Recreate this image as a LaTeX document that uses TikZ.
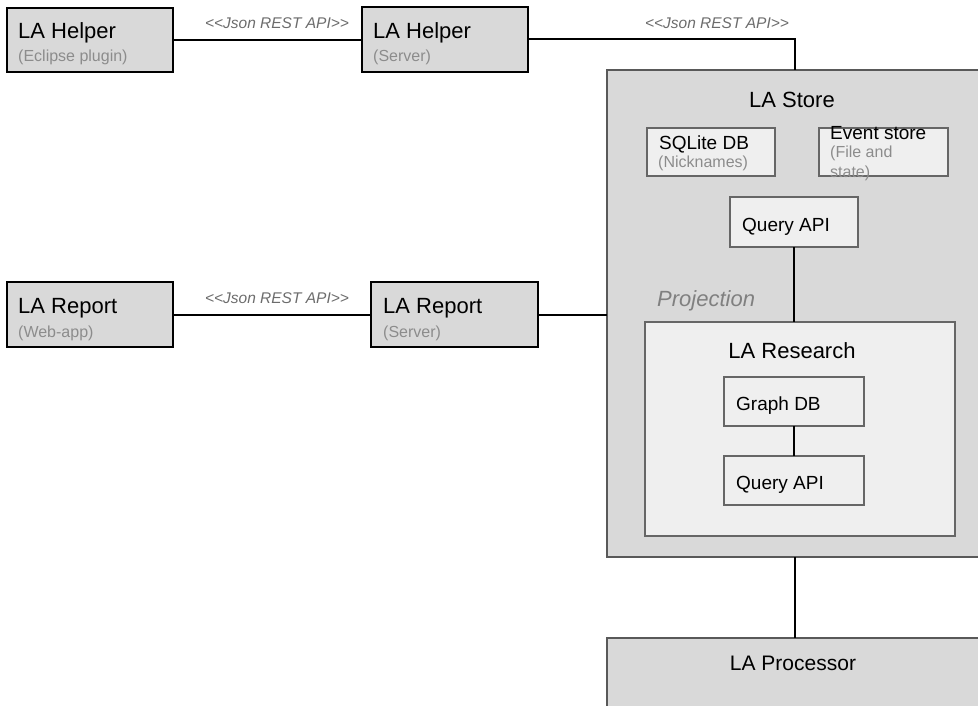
\documentclass[tikz,border=0pt]{standalone}
\usepackage{fontspec}
\setmainfont{Liberation Sans}
\usepackage{xcolor}
\usepackage{tikz}
\definecolor{boxgrey}{HTML}{D9D9D9}
\definecolor{innergrey}{HTML}{EFEFEF}
\definecolor{edgegrey}{HTML}{595959}
\definecolor{inneredge}{HTML}{666666}
\newcommand\subcol{gray!90}
\newcommand\labelcol{gray!85!black}
\tikzset{%
  boxcomp/.style={rectangle,fill=boxgrey,draw=black,line width=2.2pt,anchor=north west,inner sep=0pt,outer sep=0pt}
}
\tikzset{%
  boxstore/.style={rectangle,fill=boxgrey,draw=edgegrey,line width=2pt,anchor=north west,inner sep=0pt,outer sep=0pt}
}
\tikzset{%
  boxpart/.style={rectangle,fill=innergrey,draw=inneredge,line width=2pt,anchor=north west,inner sep=0pt,outer sep=0pt}
}
\tikzset{%
  titletext/.style={inner sep=0pt,font=\fontsize{22}{26}\selectfont},
  parttext/.style={inner sep=0pt,anchor=base west,font=\fontsize{19}{22}\selectfont},
  subtext/.style={inner sep=0pt,anchor=base west,text=\subcol,font=\fontsize{16}{19}\selectfont},
  linklabel/.style={inner sep=0pt,anchor=base,text=\labelcol,font=\fontsize{15.5}{18}\selectfont\itshape},
  link/.style={draw=black,line width=2pt}
}

\begin{document}
\begin{tikzpicture}[x=1pt,y=-1pt]
    \useasboundingbox (0,0) rectangle (978,706);

    % clients and servers
    \node[boxcomp,minimum width=166pt,minimum height=64pt](helperplugin) at (7,8){};
    \node[titletext,anchor=base west](helperplugintitle) at (18,39){LA Helper};
    \node[subtext](helperpluginsub) at (18,62){(Eclipse plugin)};

    \node[boxcomp,minimum width=166pt,minimum height=65pt](helperserver) at (362,7){};
    \node[titletext,anchor=base west](helperservertitle) at (373,39){LA Helper};
    \node[subtext](helperserversub) at (373,62){(Server)};

    \node[boxcomp,minimum width=166pt,minimum height=65pt](reportweb) at (7,282){};
    \node[titletext,anchor=base west](reportwebtitle) at (18,313){LA Report};
    \node[subtext](reportwebsub) at (18,337){(Web-app)};

    \node[boxcomp,minimum width=167pt,minimum height=65pt](reportserver) at (371,282){};
    \node[titletext,anchor=base west](reportservertitle) at (383,313){LA Report};
    \node[subtext](reportserversub) at (383,337){(Server)};

    % store
    \node[boxstore,minimum width=376pt,minimum height=487pt](store) at (607,70){};
    \node[titletext,anchor=base](storetitle) at (792,108){LA Store};

    \node[boxpart,minimum width=128pt,minimum height=48pt](sqlite) at (647,128){};
    \node[parttext](sqlitetitle) at (659,150){SQLite DB};
    \node[subtext](sqlitesub) at (658,168){(Nicknames)};

    \node[boxpart,minimum width=129pt,minimum height=48pt](events) at (819,128){};
    \node[parttext](eventstitle) at (830,140){Event store};
    \node[subtext](eventssub) at (830,158){(File and};
    \node[subtext](eventssubb) at (830,178){state)};

    \node[boxpart,minimum width=128pt,minimum height=50pt](storequery) at (730,197){};
    \node[parttext](storequerytext) at (742,232){Query API};

    \node[titletext,anchor=base west,text=gray,font=\fontsize{22}{26}\selectfont\itshape](projection) at (657,306){Projection};

    % research
    \node[boxpart,minimum width=310pt,minimum height=214pt](research) at (645,322){};
    \node[titletext,anchor=base](researchtitle) at (792,358){LA Research};

    \node[boxpart,minimum width=140pt,minimum height=49pt](graphdb) at (724,377){};
    \node[parttext](graphdbtext) at (736,410){Graph DB};

    \node[boxpart,minimum width=140pt,minimum height=49pt](researchquery) at (724,456){};
    \node[parttext](researchquerytext) at (736,489){Query API};

    % processor
    \node[boxstore,minimum width=376pt,minimum height=90pt](processor) at (607,638){};
    \node[titletext,anchor=base,font=\fontsize{21}{25}\selectfont](processortitle) at (793,670){LA Processor};

    % connectors
    \draw[link] (helperplugin.east) -- (helperplugin.east -| helperserver.west);
    \node[linklabel](helperapi) at (277,29){<{}<Json REST API>{}>};
    \draw[link] (helperserver.east) -| (store.north);
    \node[linklabel](storeapi) at (717,29){<{}<Json REST API>{}>};

    \draw[link] (reportweb.east) -- (reportweb.east -| reportserver.west);
    \node[linklabel](reportapi) at (277,303){<{}<Json REST API>{}>};
    \draw[link] (reportserver.east) -- (reportserver.east -| store.west);

    \draw[link] (storequery.south) -- (storequery.south |- research.north);
    \draw[link] (graphdb.south) -- (researchquery.north);
    \draw[link] (store.south) -- (store.south |- processor.north);
\end{tikzpicture}
\end{document}
